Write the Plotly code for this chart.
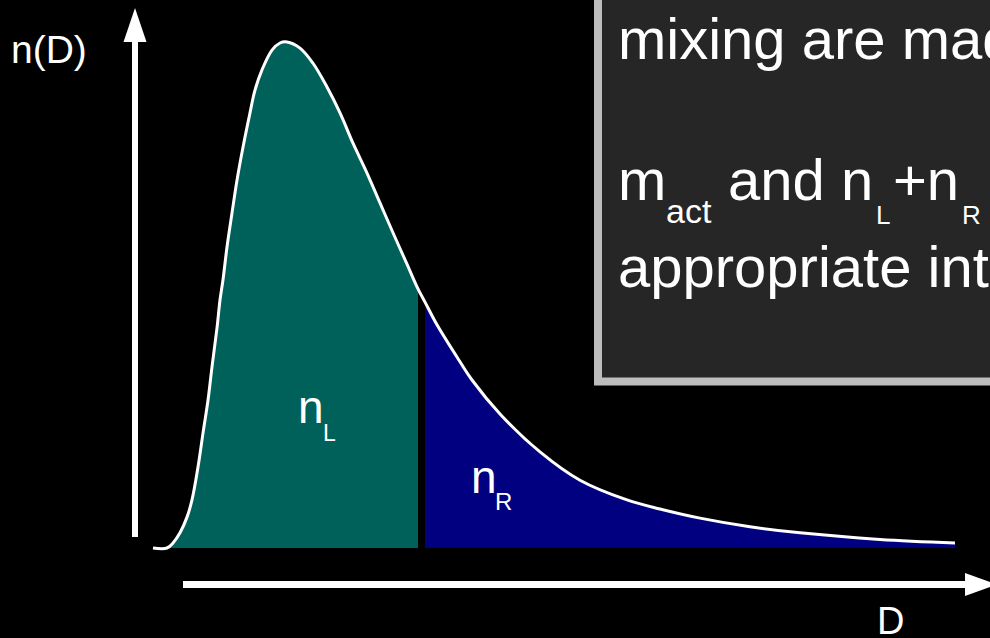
import plotly.graph_objects as go

W, H = 990, 638
FONT = "Liberation Sans, Arial, sans-serif"

# Size distribution n(D): D in arbitrary units, n normalised to its peak
diameter = [0.00, 0.14, 0.20, 0.27, 0.34, 0.39, 0.45, 0.50, 0.55, 0.59,
            0.64, 0.67, 0.70, 0.74, 0.79, 0.84, 0.90, 0.97, 1.02, 1.09,
            1.19, 1.27, 1.34, 1.47, 1.60, 1.74, 1.87, 2.00, 2.14, 2.27,
            2.40, 2.54, 2.65, 2.72, 2.84, 3.07, 3.19, 3.47, 3.87, 4.27,
            4.74, 5.07, 5.47, 5.97, 6.47, 7.27, 8.02]
number = [0.000, 0.000, 0.010, 0.030, 0.061, 0.095, 0.160, 0.227, 0.292, 0.358,
          0.435, 0.490, 0.530, 0.595, 0.662, 0.727, 0.792, 0.860, 0.905, 0.945,
          0.984, 0.998, 1.000, 0.988, 0.958, 0.911, 0.860, 0.800, 0.741, 0.682,
          0.623, 0.561, 0.512, 0.486, 0.441, 0.368, 0.332, 0.265, 0.190, 0.134,
          0.095, 0.077, 0.059, 0.042, 0.030, 0.017, 0.010]

# Left part (n_L) ends at split_left, right part (n_R) starts at split_right
split_left = 2.65
split_right = 2.72

box_lines = ["mixing are made", "appropriate integrals"]

left_d = [d for d in diameter if d <= split_left]
left_n = number[:len(left_d)]
right_d = [d for d in diameter if d >= split_right]
right_n = number[len(diameter) - len(right_d):]

SMOOTH = 1.0

fig = go.Figure()

fig.add_trace(go.Scatter(
    x=left_d, y=left_n, fill="tozeroy", fillcolor="#00605a", mode="lines",
    line=dict(color="#00605a", width=0, shape="spline", smoothing=SMOOTH),
    hoverinfo="skip"))
fig.add_trace(go.Scatter(
    x=right_d, y=right_n, fill="tozeroy", fillcolor="#000080", mode="lines",
    line=dict(color="#000080", width=0, shape="spline", smoothing=SMOOTH),
    hoverinfo="skip"))
fig.add_trace(go.Scatter(
    x=diameter, y=number, mode="lines",
    line=dict(color="white", width=3, shape="spline", smoothing=SMOOTH),
    hoverinfo="skip"))


def fx(p):
    return p / W


def fy(p):
    return 1 - p / H


# axis arrows
fig.add_shape(type="line", xref="paper", yref="paper",
              x0=fx(135), x1=fx(135), y0=fy(537), y1=fy(40),
              line=dict(color="white", width=6))
fig.add_shape(type="path", xref="paper", yref="paper",
              path=f"M{fx(123.5)},{fy(42)} L{fx(146.5)},{fy(42)} L{fx(135)},{fy(8)} Z",
              fillcolor="white", line=dict(width=0))
fig.add_shape(type="line", xref="paper", yref="paper",
              x0=fx(183), x1=fx(968), y0=fy(584.5), y1=fy(584.5),
              line=dict(color="white", width=7))
fig.add_shape(type="path", xref="paper", yref="paper",
              path=f"M{fx(965)},{fy(573)} L{fx(965)},{fy(596)} L{fx(997)},{fy(584.5)} Z",
              fillcolor="white", line=dict(width=0))

# text panel
fig.add_shape(type="rect", xref="paper", yref="paper",
              x0=fx(598), x1=fx(1010), y0=fy(-20), y1=fy(381.5),
              fillcolor="#262626", line=dict(color="#bdbdbd", width=8))


def put(text, x_ink, baseline, size, anchor="left"):
    x = x_ink - 1 - 0.06 * size if anchor == "left" else x_ink
    fig.add_annotation(
        x=fx(x), y=fy(baseline - 0.3465 * size), xref="paper", yref="paper",
        text=text, showarrow=False, xanchor=anchor, yanchor="middle",
        font=dict(size=size, color="white", family=FONT))


put("n(D)", 12, 63, 39)
put("D", 890, 634, 38, anchor="center")

put("n", 300, 423, 46)
put("L", 323, 441, 23)
put("n", 473, 493, 46)
put("R", 495, 510, 24)

put(box_lines[0], 620, 59, 58)
put("m", 620, 200, 58)
put("act", 667, 223, 34)
put("and n", 730, 200, 58)
put("L", 877, 224, 26)
put("+n", 895, 200, 58)
put("R", 963, 224, 26)
put(box_lines[1], 620, 287, 58)

fig.update_layout(
    width=W, height=H, margin=dict(l=0, r=0, t=0, b=0),
    paper_bgcolor="black", plot_bgcolor="black", showlegend=False,
    xaxis=dict(range=[-1.53, 8.37], visible=False, fixedrange=True),
    yaxis=dict(range=[-90 / 506, 548 / 506], visible=False, fixedrange=True),
)

fig.write_html("out.html")
